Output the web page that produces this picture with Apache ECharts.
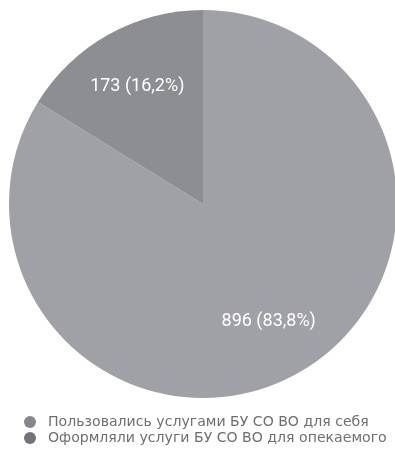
<!DOCTYPE html>
<html>
<head>
<meta charset="utf-8">
<script src="https://cdn.jsdelivr.net/npm/echarts@6/dist/echarts.min.js"></script>
<style>
  html, body { margin: 0; padding: 0; background: #ffffff; }
  #chart { width: 395px; height: 453px; }
</style>
</head>
<body>
<div id="chart"></div>
<script>
// Category names (legend) and counts per category
const categories = [
  'Пользовались услугами БУ СО ВО для себя',
  'Оформляли услуги БУ СО ВО для опекаемого'
];
const counts = [896, 173];
const sliceColors = ['#a0a1a6', '#8d8e94'];
const legendColors = ['#86878d', '#727379'];

const total = counts.reduce((a, b) => a + b, 0);
const pieData = categories.map((name, i) => ({
  name: name,
  value: counts[i],
  itemStyle: { color: sliceColors[i] }
}));

function labelText(p) {
  const pct = (p.value / total * 100).toFixed(1).replace('.', ',');
  return p.value + ' (' + pct + '%)';
}

const chart = echarts.init(document.getElementById('chart'), null, { renderer: 'canvas' });
chart.setOption({
  animation: false,
  backgroundColor: '#ffffff',
  legend: {
    orient: 'vertical',
    left: 24,
    top: 414,
    height: 40,
    padding: 0,
    itemGap: 0,
    itemWidth: 26,
    itemHeight: 12,
    icon: 'circle',
    textStyle: { color: '#6e6e6e', fontSize: 14.1, lineHeight: 16, fontFamily: 'DejaVu Sans' },
    data: categories.map((name, i) => ({ name: name, itemStyle: { color: legendColors[i] } }))
  },
  series: [
    {
      // filled pie
      type: 'pie',
      center: [203, 204],
      radius: [0, 194],
      startAngle: 90,
      clockwise: true,
      silent: true,
      label: { show: false },
      labelLine: { show: false },
      data: pieData
    },
    {
      // transparent ring that carries the value labels at mid-ring radius
      type: 'pie',
      center: [203, 204],
      radius: [70, 194],
      startAngle: 90,
      clockwise: true,
      silent: true,
      legendHoverLink: false,
      itemStyle: { color: 'rgba(0,0,0,0)' },
      label: {
        show: true,
        position: 'inside',
        color: '#ffffff',
        fontSize: 18,
        fontFamily: 'Roboto',
        formatter: labelText
      },
      labelLine: { show: false },
      data: categories.map((name, i) => ({ name: name, value: counts[i] }))
    }
  ]
});
</script>
</body>
</html>
